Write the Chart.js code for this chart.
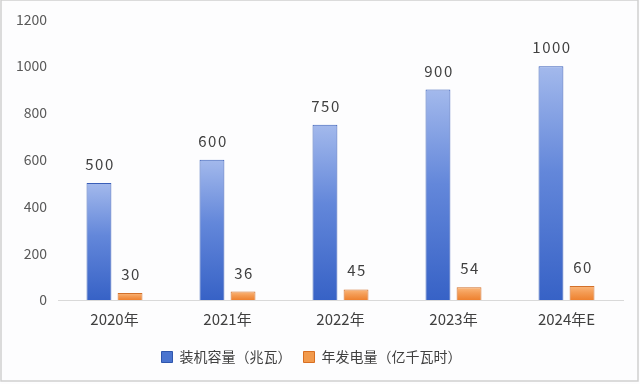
<!DOCTYPE html>
<html>
<head>
<meta charset="utf-8">
<script src="https://cdn.jsdelivr.net/npm/chart.js@4/dist/chart.umd.min.js"></script>
<style>
html,body{margin:0;padding:0;background:#fff;}
#wrap{width:640px;height:384px;}
</style>
</head>
<body>
<div id="wrap"><canvas id="c" width="640" height="384"></canvas></div>
<script>
const categories = ['2020年', '2021年', '2022年', '2023年', '2024年E'];
const capacity = [500, 600, 750, 900, 1000];
const generation = [30, 36, 45, 54, 60];
const seriesNames = ['装机容量（兆瓦）', '年发电量（亿千瓦时）'];
const yTicks = [0, 200, 400, 600, 800, 1000, 1200];

const FONT = '"Noto Sans CJK SC", "Noto Sans", sans-serif';

function barGradient(top, mid, bottom) {
  return function (ctx) {
    const chart = ctx.chart;
    const ys = chart.scales.y;
    if (!ys || ctx.raw === undefined) return bottom;
    const y0 = ys.getPixelForValue(ctx.raw);
    const y1 = ys.getPixelForValue(0);
    const g = chart.ctx.createLinearGradient(0, y0, 0, y1);
    g.addColorStop(0, top);
    g.addColorStop(0.45, mid);
    g.addColorStop(1, bottom);
    return g;
  };
}

const frame = {
  id: 'frame',
  beforeDraw(chart) {
    const c = chart.ctx;
    c.save();
    c.fillStyle = '#fdfdfe';
    c.fillRect(0, 0, chart.width, chart.height);
    c.strokeStyle = '#cfcfcf';
    c.lineWidth = 1.5;
    c.strokeRect(1, 0, chart.width - 3, chart.height - 3);
    c.restore();
  }
};

const valueLabels = {
  id: 'valueLabels',
  afterDatasetsDraw(chart) {
    const c = chart.ctx;
    c.save();
    c.font = '15px ' + FONT;
    c.fillStyle = '#404040';
    c.textAlign = 'center';
    c.textBaseline = 'alphabetic';
    try { c.letterSpacing = '1.5px'; } catch (e) {}
    chart.data.datasets.forEach((ds, di) => {
      const meta = chart.getDatasetMeta(di);
      meta.data.forEach((el, i) => {
        c.fillText(String(ds.data[i]), el.x + 1, el.y - 13);
      });
    });
    c.restore();
  }
};

new Chart(document.getElementById('c'), {
  type: 'bar',
  data: {
    labels: categories,
    datasets: [
      {
        label: seriesNames[0],
        data: capacity,
        backgroundColor: barGradient('#a3b9ec', '#6387da', '#3762c6'),
        borderColor: '#3a5fb8',
        borderWidth: 1,
        categoryPercentage: 0.55,
        barPercentage: 0.8
      },
      {
        label: seriesNames[1],
        data: generation,
        backgroundColor: barGradient('#fbb77b', '#f49c55', '#ee812f'),
        borderColor: '#d2702a',
        borderWidth: 1,
        categoryPercentage: 0.55,
        barPercentage: 0.8
      }
    ]
  },
  options: {
    responsive: false,
    animation: false,
    devicePixelRatio: 1,
    layout: { padding: { top: 18, right: 17, left: 0, bottom: 10 } },
    plugins: {
      legend: {
        position: 'bottom',
        labels: {
          boxWidth: 11,
          boxHeight: 11,
          padding: 12,
          color: '#404040',
          font: { family: FONT, size: 14 },
          generateLabels(chart) {
            const cols = [['#4a74cf', '#2f56ad'], ['#f29a4c', '#d86f22']];
            return chart.data.datasets.map((ds, i) => ({
              text: ds.label,
              fillStyle: cols[i][0],
              strokeStyle: cols[i][1],
              lineWidth: 1,
              datasetIndex: i,
              fontColor: '#404040'
            }));
          }
        }
      },
      tooltip: { enabled: false }
    },
    scales: {
      x: {
        grid: { display: false, drawTicks: false },
        border: { display: true, color: '#d9d9d9', width: 1 },
        ticks: { color: '#404040', font: { family: FONT, size: 15 }, padding: 10 }
      },
      y: {
        min: 0,
        max: 1200,
        afterBuildTicks(scale) { scale.ticks = yTicks.map(v => ({ value: v })); },
        afterFit(scale) { scale.width = 58; },
        grid: { display: false, drawTicks: false },
        border: { display: false },
        ticks: {
          color: '#595959',
          font: { family: FONT, size: 14 },
          padding: 11,
          callback: (v) => String(v)
        }
      }
    }
  },
  plugins: [frame, valueLabels]
});
</script>
</body>
</html>
